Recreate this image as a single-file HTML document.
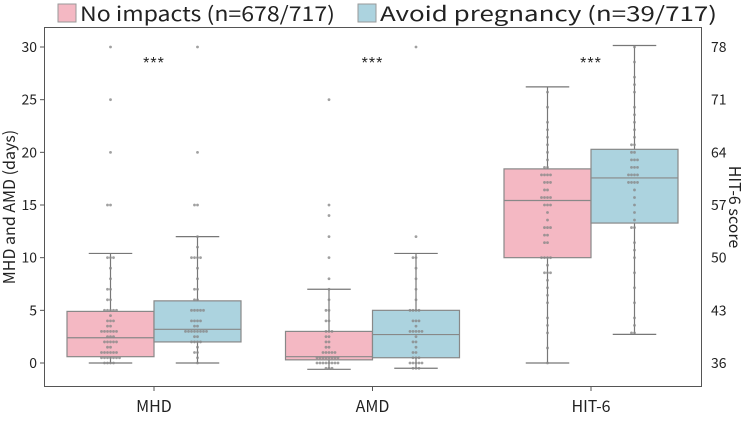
<!DOCTYPE html>
<html><head><meta charset="utf-8"><style>
body{margin:0;background:#fff;}
svg text{font-family:"Noto Sans CJK JP","Liberation Sans",sans-serif;fill:#222;}
svg text.stars{font-family:"Liberation Sans",sans-serif;letter-spacing:1px;}
</style></head><body>
<svg id="c" width="744" height="418" xmlns="http://www.w3.org/2000/svg">
<g>
<rect x="58" y="4" width="18" height="18" fill="#f4b8c3" stroke="#999"/>
<text x="80" y="21" font-size="20" textLength="255" lengthAdjust="spacingAndGlyphs">No impacts (n=678/717)</text>
<rect x="358" y="4" width="18" height="18" fill="#acd3df" stroke="#999"/>
<text x="380" y="21" font-size="20" textLength="337" lengthAdjust="spacingAndGlyphs">Avoid pregnancy (n=39/717)</text>
</g>
<rect x="44.5" y="27.5" width="657" height="359" fill="none" stroke="#555"/>
<text transform="translate(15,207) rotate(-90)" text-anchor="middle" font-size="16">MHD and AMD (days)</text>
<text transform="translate(729,207) rotate(90)" text-anchor="middle" font-size="16">HIT-6 score</text>
<g id="g"></g>
</svg>
<script>
const categories=["MHD","AMD","HIT-6"];
const leftTicks=[0,5,10,15,20,25,30];
const rightTicks=[36,43,50,57,64,71,78];
// box stats: [whiskerLow,q1,median,q3,whiskerHigh]
const noImpactStats=[[0,0.6,2.4,4.9,10.4],[-0.6,0.3,0.6,3.0,7.0],[36,50,57.6,61.8,72.7]];
const avoidStats=[[0,2.0,3.2,5.9,12.0],[-0.5,0.5,2.7,5.0,10.4],[39.8,54.6,60.6,64.4,78.2]];
const mhdNo=[0,0,0,0,0.5,0.5,0.5,0.5,0.5,0.5,0.5,1,1,1,1,1,1,1.5,1.5,2,2,2,2,2,2.5,2.5,2.5,3,3,3,3,3,3,3.5,3.5,4,4,4,4.5,5,5,5,5,5,6,6,7,7,8,9,10,10,10,15,15,20,25,30];
const mhdAv=[0,0.5,1,1,1.5,2,2,2,2,2.5,2.5,3,3,3,3,3,3,3,3,3.5,3.5,4,4,4,4,5,5,5,5,5,6,6,7,7,8,9,10,10,10,10,11,12,15,15,20,30];
const amdNo=[-0.5,-0.5,-0.5,0,0,0,0,0,0,0,0,0.5,0.5,0.5,0.5,0.5,0.5,0.5,0.5,1,1,1,1,1,1.5,1.5,2,2,2.5,2.5,3,3,3,4,4,5,5,6,7,8,10,12,14,15,25];
const amdAv=[-0.5,-0.5,-0.5,0,0,0,0,0,0.5,0.5,0.5,1,1,1.5,2,2,2.5,3,3,3,3,3,3.5,4,4,4,5,5,5,5,6,7,8,9,10,10,12,30];
const hitNo=[36,38,40,41,42,44,45,46,47,48,48,48,49,50,50,50,50,52,52,53,53,54,54,54,55,56,57,57,57,58,58,58,58,59,59,60,60,60,61,61,61,61,62,62,63,64,65,66,67,68,70,72];
const hitAv=[40,40,41,42,44,46,48,50,51,52,54,54,55,56,57,58,59,60,60,60,60,61,61,61,61,62,62,62,63,63,63,64,64,65,65,66,67,68,69,70,72,73,74,76,78];
const NS="http://www.w3.org/2000/svg";
const g=document.getElementById('g');
const x0=44,y0=363,pxPerDay=10.533,step=218.5;
function yDay(v){return y0-v*pxPerDay;}
function yHit(v){return y0-(v-36)*(316/42);}
function xCat(i){return 154+i*step;}
function mk(t,a){const e=document.createElementNS(NS,t);for(const k in a)e.setAttribute(k,a[k]);g.appendChild(e);return e;}
leftTicks.forEach(t=>{
 const l=mk('line',{x1:x0-4,x2:x0,y1:yDay(t),y2:yDay(t),stroke:'#555'});
 
 
 const tx=mk('text',{x:x0-7,y:yDay(t)+5,'text-anchor':'end','font-size':14});
 tx.textContent=t;
 
 
});
rightTicks.forEach(t=>{
 const tx=mk('text',{x:711,y:yHit(t)+5,'font-size':14});
 tx.textContent=t;
 
 
});
categories.forEach((c,i)=>{
 const l=mk('line',{x1:xCat(i),x2:xCat(i),y1:386,y2:391,stroke:'#555'});
 
 
 const tx=mk('text',{x:xCat(i),y:412,'text-anchor':'middle','font-size':16});
 tx.textContent=c;
 
 
 const s=mk('text',{x:xCat(i),y:68,'text-anchor':'middle','font-size':16,'class':'stars'});
 s.textContent='***';
 
 
});
function box(i,side,st,fill,yf,name){
 const cx=xCat(i)+side*43.5, hw=43.5;
 [[st[0],st[1]],[st[3],st[4]]].forEach(p=>{
  const w=mk('line',{x1:cx,x2:cx,y1:yf(p[0]),y2:yf(p[1]),stroke:'#777','stroke-width':1.2});
  
  
 });
 [st[0],st[4]].forEach(v=>{
  const cap=mk('line',{x1:cx-hw*0.5,x2:cx+hw*0.5,y1:yf(v),y2:yf(v),stroke:'#777','stroke-width':1.2});
  
  
 });
 const r=mk('rect',{x:cx-hw,y:yf(st[3]),width:hw*2,height:yf(st[1])-yf(st[3]),fill:fill,stroke:'#888','stroke-width':1.2});
 
 
 const m=mk('line',{x1:cx-hw,x2:cx+hw,y1:yf(st[2]),y2:yf(st[2]),stroke:'#888','stroke-width':1.2});
 
 
}
function swarm(i,side,vals,yf,name){
 const cx=xCat(i)+side*43.5, cnt={};
 vals.forEach(v=>{
  const k=Math.round(yf(v)/3);cnt[k]=(cnt[k]||0)+1;const n=cnt[k];
  const off=(n%2?1:-1)*Math.floor(n/2)*3;
  const p=mk('circle',{cx:cx+off,cy:yf(v),r:1.4,fill:'#888','fill-opacity':0.8});
  
  
 });
}
const yfs=[yDay,yDay,yHit];
[0,1,2].forEach(i=>{
 box(i,-1,noImpactStats[i],'#f4b8c3',yfs[i],'no-impacts-'+categories[i].toLowerCase());
 box(i,1,avoidStats[i],'#acd3df',yfs[i],'avoid-pregnancy-'+categories[i].toLowerCase());
});
swarm(0,-1,mhdNo,yDay,'mhd-no-impacts');swarm(0,1,mhdAv,yDay,'mhd-avoid');
swarm(1,-1,amdNo,yDay,'amd-no-impacts');swarm(1,1,amdAv,yDay,'amd-avoid');
swarm(2,-1,hitNo,yHit,'hit6-no-impacts');swarm(2,1,hitAv,yHit,'hit6-avoid');
</script>
</body></html>
